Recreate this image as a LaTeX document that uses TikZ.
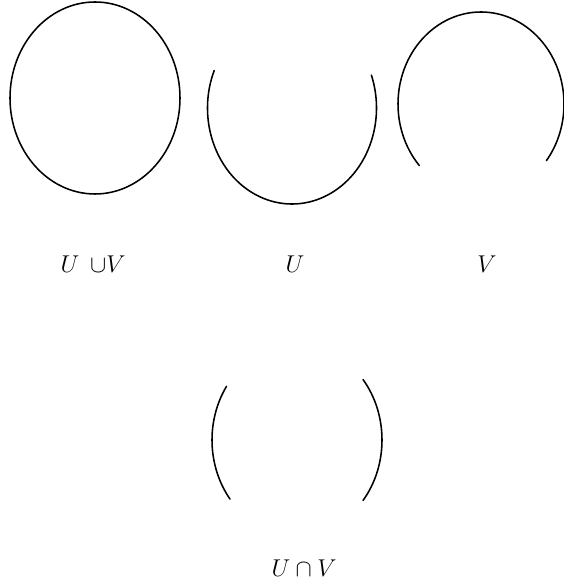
\documentclass[tikz,border=0pt]{standalone}
\usepackage{amsmath,amssymb}
\usepackage{tikz}
\usetikzlibrary{positioning,calc}

\begin{document}
\begin{tikzpicture}[
  x=0.025cm, y=0.025cm,
  font=\fontsize{18}{21}\selectfont,
  curve/.style={line width=1.1pt, line cap=round},
  lbl/.style={inner sep=0pt, anchor=center},
]
  \useasboundingbox (0,0) rectangle (564,584);

  % centres of the four pictures
  \coordinate (cUV) at (95,486);
  \coordinate (cU)  at (292,476);
  \coordinate (cV)  at (481,480);
  \coordinate (cI)  at (297,144);

  % U u V: the whole circle
  \draw[curve] (cUV) ellipse[x radius=85, y radius=96];

  % U: the lower part
  \draw[curve] (cU) ++(157:84.5 and 96)
       arc[start angle=157, end angle=380, x radius=84.5, y radius=96];

  % V: the upper part
  \draw[curve] (cV) ++(222:83 and 92)
       arc[start angle=222, end angle=-38, x radius=83, y radius=92];

  % U n V: the two side pieces
  \draw[curve] (cI) ++(146:85 and 96)
       arc[start angle=146, end angle=218, x radius=85, y radius=96];
  \draw[curve] (cI) ++(-39:85 and 96)
       arc[start angle=-39, end angle=39, x radius=85, y radius=96];

  % labels
  \node[lbl] (lUV) at (93,320) {$U\;\,{\cup}V$};
  \node[lbl] (lU)  at (295,320) {$U$};
  \node[lbl] (lV)  at (487,320) {$V$};
  \node[lbl] (lI)  at (304,16) {$U\cap V$};
\end{tikzpicture}
\end{document}
